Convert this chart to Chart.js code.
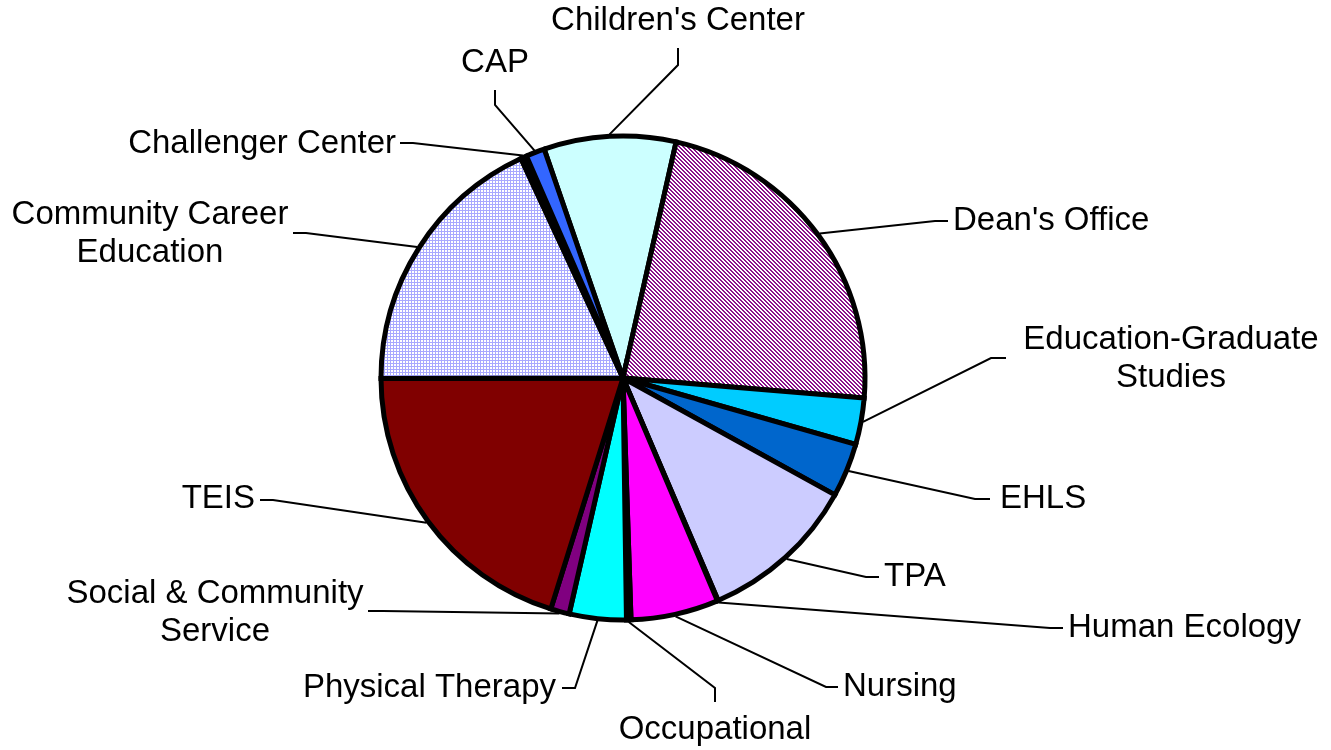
<!DOCTYPE html>
<html><head><meta charset="utf-8">
<script src="https://cdn.jsdelivr.net/npm/chart.js@4"></script>
<style>html,body{margin:0;padding:0;background:#fff;}#wrap{width:1331px;height:750px;}</style>
</head><body><div id="wrap"><canvas id="c" width="1331" height="750"></canvas></div>
<script>
// ---- data ----
const categories = ["Children's Center","Dean's Office","Education-Graduate Studies","EHLS","TPA","Human Ecology","Nursing","Occupational","Physical Therapy","Social & Community Service","TEIS","Community Career Education","Challenger Center","CAP"];
const values = [8.8, 22.8, 3.1, 3.6, 10.55, 0.05, 5.85, 0.3, 3.8, 1.25, 20.15, 18.1, 0.4, 1.25];
const labelLines = [["Children's Center"],["Dean's Office"],["Education-Graduate","Studies"],["EHLS"],["TPA"],["Human Ecology"],["Nursing"],["Occupational"],["Physical Therapy"],["Social & Community","Service"],["TEIS"],["Community Career","Education"],["Challenger Center"],["CAP"]];

// ---- layout of label leaders (elbow, end of leader, text anchor, alignment) ----
const labelLayout = [
  {elbow:[678,65],  end:[678,48],  text:[678,21],  align:'center'},
  {elbow:[935,221], end:[948,221], text:[953,221], align:'left'},
  {elbow:[991,358], end:[1006,358],text:[1171,359],align:'center'},
  {elbow:[975,499], end:[990,499], text:[1000,499],align:'left'},
  {elbow:[866,577], end:[879,577], text:[884,577], align:'left'},
  {elbow:[1050,628],end:[1063,628],text:[1068,628],align:'left'},
  {elbow:[826,687], end:[838,687], text:[843,687], align:'left'},
  {elbow:[715,688], end:[715,702], text:[715,730], align:'center'},
  {elbow:[575,688], end:[562,688], text:[556,688], align:'right'},
  {elbow:[383,611], end:[368,611], text:[215,613], align:'center'},
  {elbow:[273,500], end:[260,500], text:[255,499], align:'right'},
  {elbow:[306,233], end:[293,233], text:[150,234], align:'center'},
  {elbow:[413,143], end:[400,143], text:[396,144], align:'right'},
  {elbow:[495,105], end:[495,90],  text:[495,63],  align:'center'}
];

function makePattern(size, fg, cells){
  const c = document.createElement('canvas'); c.width = size; c.height = size;
  const x = c.getContext('2d');
  x.fillStyle = '#ffffff'; x.fillRect(0,0,size,size);
  x.fillStyle = fg; cells.forEach(([a,b]) => x.fillRect(a,b,1,1));
  return x.createPattern(c,'repeat');
}
const deanCells = []; for (let r=0;r<4;r++){ deanCells.push([r%4,r]); deanCells.push([(r+1)%4,r]); }
const deanPattern = makePattern(4,'#8a108a',deanCells);
const gridCells = []; for (let i=0;i<3;i++){ gridCells.push([i,0]); if(i>0) gridCells.push([0,i]); }
const ccePattern = makePattern(3,'#a8a8ff',gridCells);

const colors = ['#ccffff', deanPattern, '#00ccff', '#0066cc', '#ccccff', '#ffff99', '#ff00ff', '#000000', '#00ffff', '#800080', '#800000', ccePattern, '#000000', '#3366ff'];

const FONT = '33px "Liberation Sans", Arial, sans-serif';

const leaderPlugin = {
  id: 'leaders',
  afterDraw(chart){
    const ctx = chart.ctx;
    const arcs = chart.getDatasetMeta(0).data;
    ctx.save();
    ctx.strokeStyle = '#000'; ctx.lineWidth = 2; ctx.lineJoin = 'miter';
    ctx.fillStyle = '#000'; ctx.font = FONT; ctx.textBaseline = 'middle';
    arcs.forEach((arc, i) => {
      const p = arc.getProps(['x','y','startAngle','endAngle','outerRadius'], true);
      const mid = (p.startAngle + p.endAngle) / 2;
      const r = p.outerRadius + 2;
      const sx = p.x + Math.cos(mid) * r, sy = p.y + Math.sin(mid) * r;
      const L = labelLayout[i];
      ctx.beginPath(); ctx.moveTo(sx, sy); ctx.lineTo(L.elbow[0], L.elbow[1]); ctx.lineTo(L.end[0], L.end[1]); ctx.stroke();
      const lines = labelLines[i];
      ctx.textAlign = L.align;
      const lh = 38;
      const y0 = L.text[1] - (lines.length - 1) * lh / 2;
      lines.forEach((t, k) => ctx.fillText(t, L.text[0], y0 + k * lh));
    });
    ctx.restore();
  }
};

new Chart(document.getElementById('c'), {
  type: 'pie',
  data: { labels: categories, datasets: [{ data: values, backgroundColor: colors, borderColor: '#000', borderWidth: 5, radius: 242, borderJoinStyle: 'miter' }] },
  options: {
    responsive: false, animation: false, events: [],
    rotation: -19,
    layout: { padding: { left: 0, right: 85, top: 6, bottom: 0 } },
    plugins: { legend: { display: false }, tooltip: { enabled: false }, title: { display: false } }
  },
  plugins: [leaderPlugin]
});
</script></body></html>
